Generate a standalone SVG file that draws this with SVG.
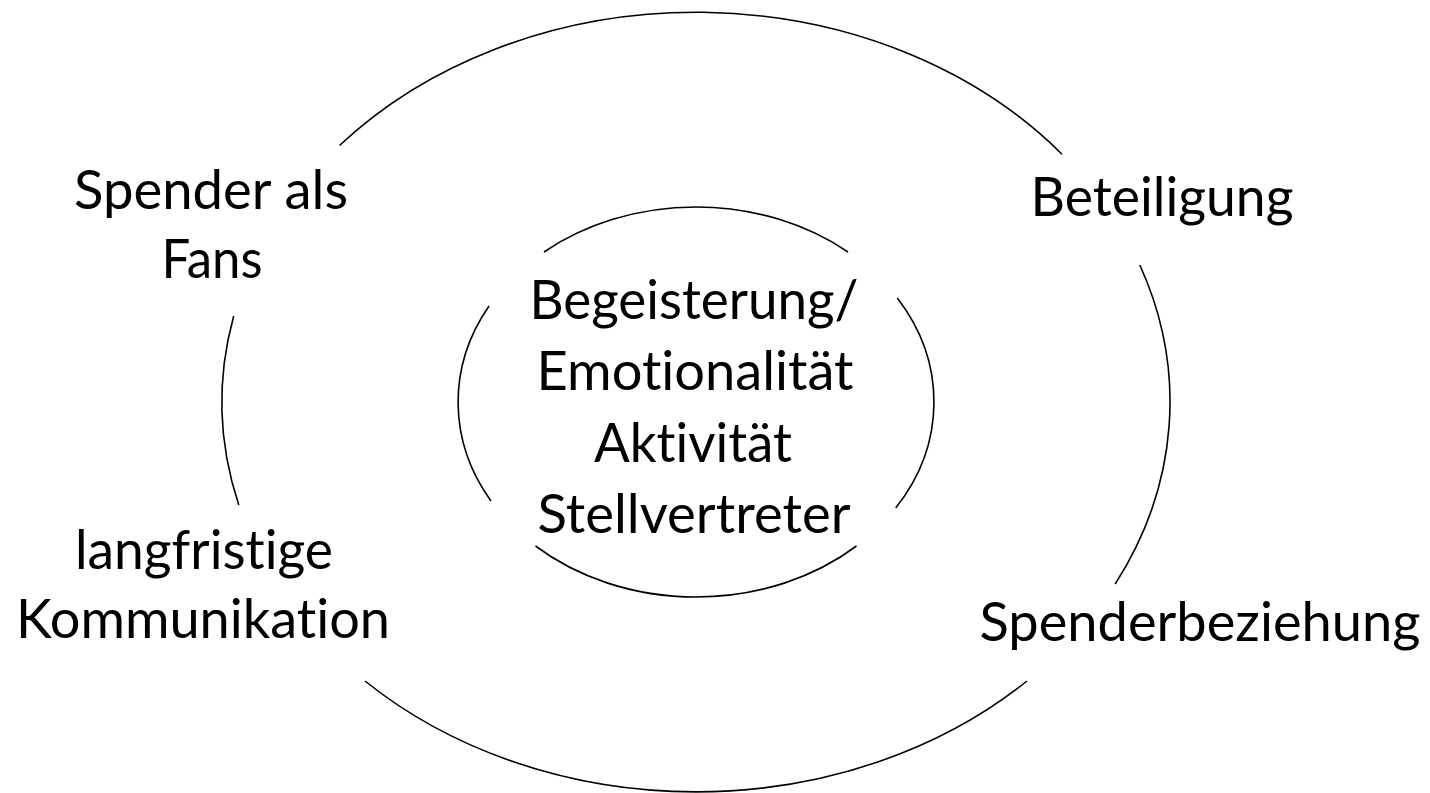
<svg xmlns="http://www.w3.org/2000/svg" width="1430" height="793" viewBox="0 0 1430 793">
<style>
.arc{fill:none;stroke:#000;stroke-width:1.6}
.lbl{font-family:Lato,"Open Sans","Liberation Sans",sans-serif;font-size:54px;fill:#000;text-anchor:middle;font-variant-ligatures:none;font-feature-settings:"liga" 0,"clig" 0,"dlig" 0}
</style>
<rect width="1430" height="793" fill="#fff"/>
<g id="connectors">
<g id="outer-ring">
<path class="arc" d="M339.5,145.5 A474,390 0 0 1 1062,154.2"/>
<path class="arc" d="M1139.8,265 A474,390 0 0 1 1115.2,584"/>
<path class="arc" d="M1027,681 A474,390 0 0 1 365,681"/>
<path class="arc" d="M238.8,505 A474,390 0 0 1 233.7,316"/>
</g>
<g id="inner-ring">
<path class="arc" d="M544,252 A238,195 0 0 1 848,252"/>
<path class="arc" d="M897.3,298 A238,195 0 0 1 895.7,508"/>
<path class="arc" d="M856.5,546 A238,195 0 0 1 535.5,546"/>
<path class="arc" d="M491,501 A238,195 0 0 1 489,306"/>
</g>
</g>
<g id="node-center">
<text class="lbl" x="694" y="319" textLength="329" lengthAdjust="spacingAndGlyphs">Begeisterung/</text>
<text class="lbl" x="695" y="390" textLength="317" lengthAdjust="spacingAndGlyphs">Emotionalität</text>
<text class="lbl" x="693" y="462" textLength="198" lengthAdjust="spacingAndGlyphs">Aktivität</text>
<text class="lbl" x="694" y="533" textLength="313" lengthAdjust="spacingAndGlyphs">Stellvertreter</text>
</g>
<g id="node-spender-fans">
<text class="lbl" x="211" y="209" textLength="274" lengthAdjust="spacingAndGlyphs">Spender als</text>
<text class="lbl" x="212" y="278" textLength="101" lengthAdjust="spacingAndGlyphs">Fans</text>
</g>
<g id="node-beteiligung">
<text class="lbl" x="1162" y="216" textLength="263" lengthAdjust="spacingAndGlyphs">Beteiligung</text>
</g>
<g id="node-kommunikation">
<text class="lbl" x="204" y="569" textLength="258" lengthAdjust="spacingAndGlyphs">langfristige</text>
<text class="lbl" x="203" y="638" textLength="374" lengthAdjust="spacingAndGlyphs">Kommunikation</text>
</g>
<g id="node-spenderbeziehung">
<text class="lbl" x="1200" y="641" textLength="441" lengthAdjust="spacingAndGlyphs">Spenderbeziehung</text>
</g>
</svg>
